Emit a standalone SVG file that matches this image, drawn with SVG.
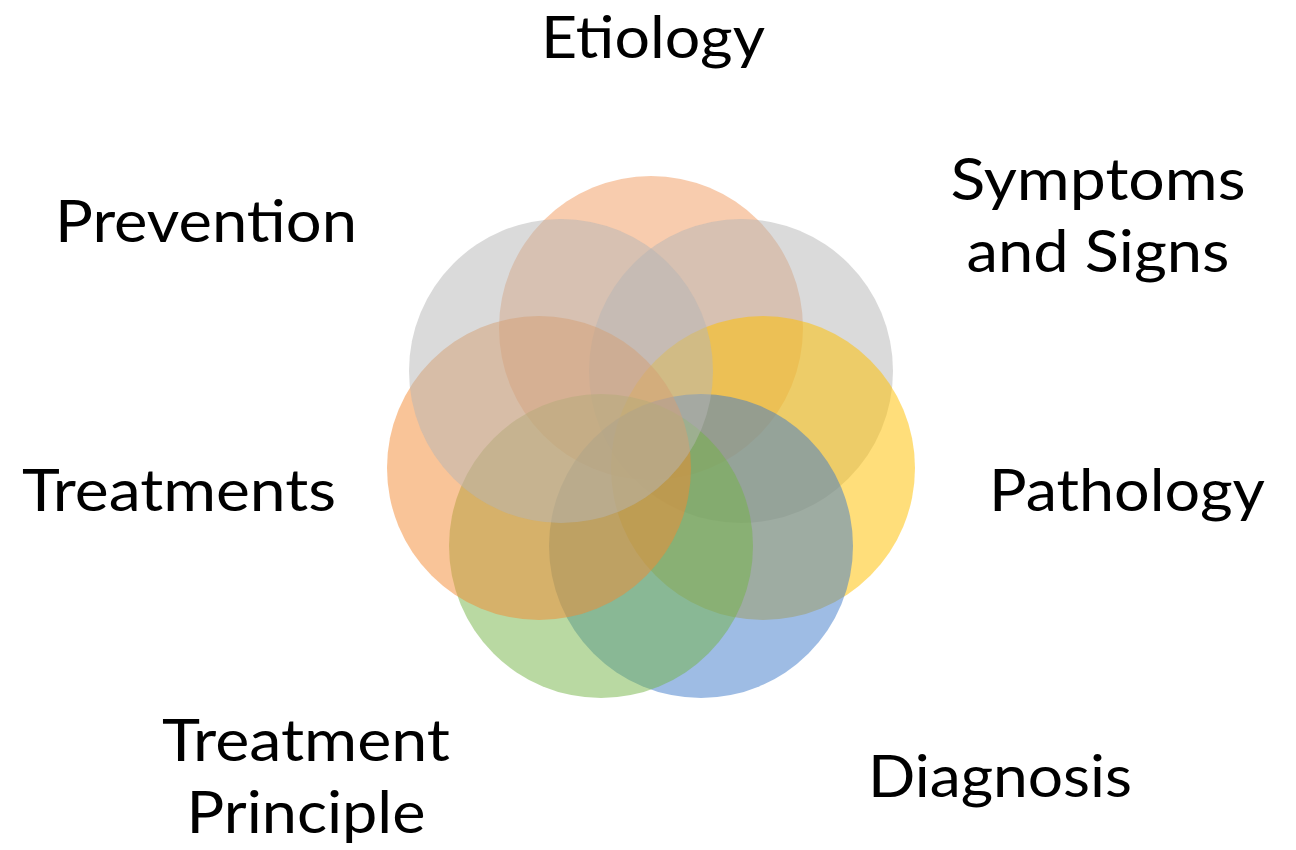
<svg xmlns="http://www.w3.org/2000/svg" width="1296" height="850" viewBox="0 0 1296 850">
<style>
  .lbl { font-family: "Lato", "Open Sans", "Liberation Sans", sans-serif; font-size: 58px; fill: #000; text-anchor: middle; }
  .c { stroke: none; fill-opacity: 0.5; }
</style>
<rect width="1296" height="850" fill="#fff"/>
<g id="circles">
  <g id="etiology-circle"><circle class="c" cx="651" cy="328" r="152" fill="#F1995D"/></g>
  <g id="symptoms-circle"><circle class="c" cx="741" cy="371" r="152" fill="#B5B5B5"/></g>
  <g id="pathology-circle"><circle class="c" cx="763" cy="468" r="152" fill="#FFC000" style="fill-opacity:0.52"/></g>
  <g id="diagnosis-circle"><circle class="c" cx="701" cy="546" r="152" fill="#3D79C9"/></g>
  <g id="principle-circle"><circle class="c" cx="601" cy="546" r="152" fill="#73B345"/></g>
  <g id="treatments-circle"><circle class="c" cx="539" cy="468" r="152" fill="#F38931"/></g>
  <g id="prevention-circle"><circle class="c" cx="561" cy="371" r="152" fill="#B5B5B5"/></g>
</g>
<g id="labels">
  <g id="etiology"><text class="lbl" x="653" y="58" textLength="224" lengthAdjust="spacingAndGlyphs">Etiology</text></g>
  <g id="symptoms"><text class="lbl" x="1098" y="200" textLength="295" lengthAdjust="spacingAndGlyphs">Symptoms</text><text class="lbl" x="1098" y="272" textLength="263" lengthAdjust="spacingAndGlyphs">and Signs</text></g>
  <g id="prevention"><text class="lbl" x="206" y="242" textLength="302" lengthAdjust="spacingAndGlyphs">Prevention</text></g>
  <g id="pathology"><text class="lbl" x="1127" y="511" textLength="276" lengthAdjust="spacingAndGlyphs">Pathology</text></g>
  <g id="treatments"><text class="lbl" x="179" y="511" textLength="314" lengthAdjust="spacingAndGlyphs">Treatments</text></g>
  <g id="treatment-principle"><text class="lbl" x="306" y="761" textLength="288" lengthAdjust="spacingAndGlyphs">Treatment</text><text class="lbl" x="306" y="833" textLength="239" lengthAdjust="spacingAndGlyphs">Principle</text></g>
  <g id="diagnosis"><text class="lbl" x="1000" y="797" textLength="264" lengthAdjust="spacingAndGlyphs">Diagnosis</text></g>
</g>
<g id="connectors"></g>
</svg>
